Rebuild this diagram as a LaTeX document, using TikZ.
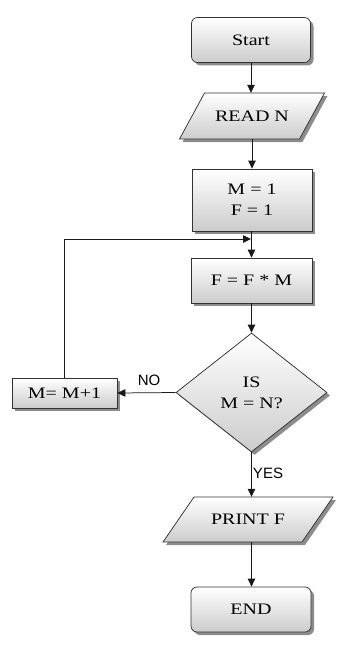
\documentclass[tikz,border=0pt]{standalone}
\usepackage{fontspec}
\setmainfont{Liberation Serif}
\newfontfamily\boxfont[FakeStretch=1.25]{Liberation Serif}
\newfontfamily\labfont{Liberation Sans}
\usetikzlibrary{shapes.geometric,shadows,arrows.meta}
\begin{document}
\begin{tikzpicture}[x=1pt,y=-1pt,
  shapebase/.style={draw=black!80, line width=0.75pt, top color=white, bottom color=black!20,
    drop shadow={shadow xshift=3pt, shadow yshift=-3pt, fill=black!45, opacity=1}},
  base/.style={shapebase, font=\boxfont\fontsize{16}{21}\selectfont, align=center, inner sep=0pt},
  term/.style={base, rectangle, rounded corners=6pt, minimum width=119pt, minimum height=45pt},
  proc/.style={base, rectangle},
  iotext/.style={font=\boxfont\fontsize{16}{21}\selectfont, align=center, inner sep=0pt, minimum height=46pt},
  decision/.style={base, diamond, minimum width=151pt, minimum height=119pt},
  conn/.style={draw=black!90, line width=0.75pt, -{Triangle[length=8pt,width=7.5pt]}},
  lab/.style={font=\labfont\fontsize{15}{18}\selectfont, inner sep=0pt}
]
\useasboundingbox (0,0) rectangle (361,661);

\node[term] (start) at (251,40) {Start};
\path[shapebase] (179.5,139) -- (204.5,93) -- (324.5,93) -- (299.5,139) -- cycle;
\node[iotext] (read) at (252,116) {READ N};
\node[proc, minimum width=120pt, minimum height=62pt] (init) at (252,200) {M = 1\\F = 1};
\node[proc, minimum width=121pt, minimum height=45pt] (calc) at (251.5,280.5) {F = F * M};
\node[decision] (dec) at (251.5,392.5) {IS\\M = N?};
\node[proc, minimum width=105pt, minimum height=30pt] (inc) at (64.5,393) {M= M+1};
\path[shapebase] (163,542) -- (194,497) -- (333,497) -- (302,542) -- cycle;
\node[iotext, minimum height=45pt] (print) at (248,519.5) {PRINT F};
\node[term, minimum width=120pt] (end) at (251,609.5) {END};

\coordinate (loop) at (251,239);

\draw[conn] (start.south) -- (start.south |- read.north);
\draw[conn] (read.south -| init.north) -- (init.north);
\draw[conn] (init.south -| calc.north) -- (calc.north);
\draw[conn] (calc.south) -- (dec.north);
\draw[conn] (dec.west) -- (inc.east);
\draw[conn] (inc.north) |- (loop);
\draw[conn] (dec.south) -- (dec.south |- print.north);
\draw[conn] (dec.south |- print.south) -- (dec.south |- end.north);

\node[lab] (no) at (149,380) {NO};
\node[lab] (yes) at (268,473) {YES};
\end{tikzpicture}
\end{document}
